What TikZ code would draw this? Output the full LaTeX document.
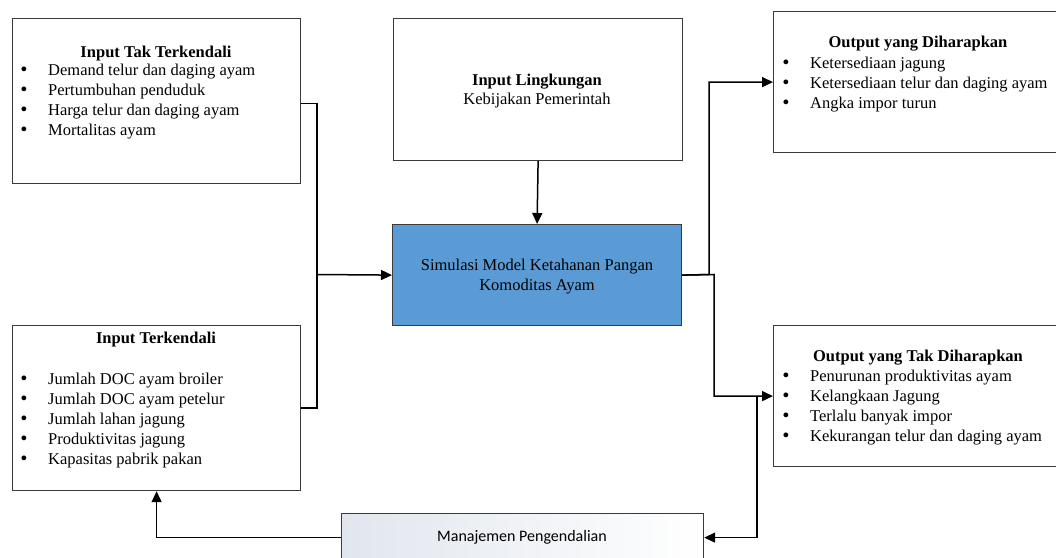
\documentclass[tikz,border=0pt]{standalone}
\usepackage{fontspec}
\setmainfont{Liberation Serif}
\newfontfamily\calibrifont{Carlito}
\newfontfamily\dejavufont{DejaVu Sans}
\usetikzlibrary{arrows.meta}
\definecolor{boxline}{HTML}{3A3A3A}
\definecolor{simblue}{HTML}{5B9BD5}
\definecolor{mgmtgray}{HTML}{E1E6EE}
\newcommand{\bul}{{\dejavufont •}}
\newcommand{\lst}[1]{\fontsize{16.5}{20}\selectfont\begin{tabular}[t]{@{}p{29pt}@{}l@{}}#1\end{tabular}}
\tikzset{
  x=1pt, y=-1pt,
  box/.style={draw=boxline, line width=1.2pt, rectangle, anchor=north west, inner sep=0pt},
  ttl/.style={font=\fontsize{16.5}{20}\selectfont\bfseries, anchor=base, inner sep=0pt},
  txt/.style={font=\fontsize{16.5}{20}\selectfont, anchor=base, inner sep=0pt},
  lstnode/.style={anchor=north west, inner sep=0pt},
  conn/.style={line width=1.5pt, black},
  arr/.style={conn, -{Triangle[length=11pt,width=10pt]}}
}
\begin{document}
\begin{tikzpicture}
\useasboundingbox (0,0) rectangle (1056,557);
\clip (0,0) rectangle (1056,557);
\fill[white] (0,0) rectangle (1056,557);
% boxes
\node[box, minimum width=288pt, minimum height=165pt] (b1) at (12,18) {};
\node[box, minimum width=288pt, minimum height=165pt] (b2) at (12,325) {};
\node[box, minimum width=289pt, minimum height=142pt] (env) at (393,18) {};
\node[box, fill=simblue, minimum width=289pt, minimum height=101pt] (sim) at (392,224) {};
\node[box, minimum width=292pt, minimum height=141pt] (o1) at (773,11) {};
\node[box, minimum width=292pt, minimum height=141pt] (o2) at (773,325) {};
\node[box, left color=mgmtgray, right color=white, minimum width=362pt, minimum height=48pt] (mg) at (341,513) {};
% texts
\node[ttl] (t1) at (156,57.5) {Input Tak Terkendali};
\node[lstnode] (l1) at (19,61.5) {\lst{\bul & Demand telur dan daging ayam\\ \bul & Pertumbuhan penduduk\\ \bul & Harga telur dan daging ayam\\ \bul & Mortalitas ayam}};
\node[ttl] (t2) at (156,343.5) {Input Terkendali};
\node[lstnode] (l2) at (19,370.5) {\lst{\bul & Jumlah DOC ayam broiler\\ \bul & Jumlah DOC ayam petelur\\ \bul & Jumlah lahan jagung\\ \bul & Produktivitas jagung\\ \bul & Kapasitas pabrik pakan}};
\node[ttl] (t3) at (537,85.5) {Input Lingkungan};
\node[txt] (t4) at (537,104) {Kebijakan Pemerintah};
\node[txt] (t5) at (537,270.5) {Simulasi Model Ketahanan Pangan};
\node[txt] (t6) at (537,290.5) {Komoditas Ayam};
\node[ttl] (t7) at (918,47.5) {Output yang Diharapkan};
\node[lstnode] (l3) at (781,54.5) {\lst{\bul & Ketersediaan jagung\\ \bul & Ketersediaan telur dan daging ayam\\ \bul & Angka impor turun}};
\node[ttl] (t8) at (918,361.5) {Output yang Tak Diharapkan};
\node[lstnode] (l4) at (781,367.5) {\lst{\bul & Penurunan produktivitas ayam\\ \bul & Kelangkaan Jagung\\ \bul & Terlalu banyak impor\\ \bul & Kekurangan telur dan daging ayam}};
\node[font=\calibrifont\fontsize{16}{19}\selectfont, inner sep=0pt] (t9) at (522,537) {Manajemen Pengendalian};
% junction coordinates
\coordinate (j1) at (317,274.5);
\coordinate (j2) at (709,274.5);
\coordinate (j3) at (714,274.5);
\coordinate (j4) at (757,395.5);
% connectors
\draw[conn] ([yshift=-2.5pt]b1.east) -| (j1) |- (b2.east);
\draw[arr] (j1) -- (sim.west);
\draw[arr] (env.south) -- (sim.north);
\draw[arr] (sim.east) -- (j2) |- (o1.west);
\draw[arr] (sim.east) -- (j3) |- (o2.west);
\draw[arr] (j4) |- (mg.east);
\draw[arr] (mg.west) -| (b2.south);
\end{tikzpicture}
\end{document}
